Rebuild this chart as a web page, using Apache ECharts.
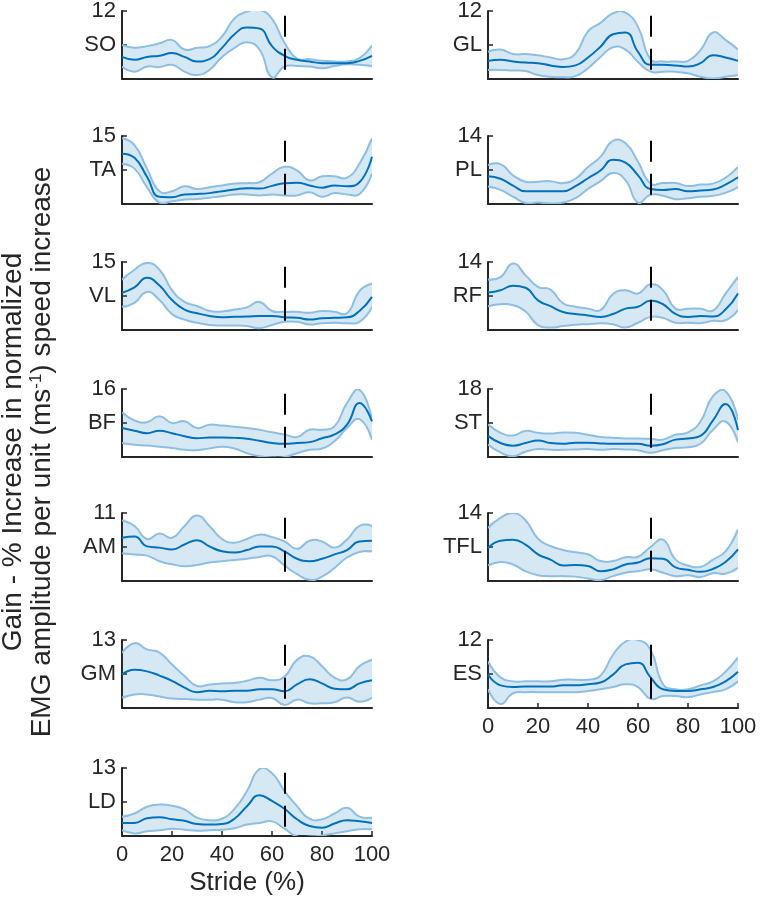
<!DOCTYPE html>
<html>
<head>
<meta charset="utf-8">
<script src="https://cdn.jsdelivr.net/npm/echarts@6/dist/echarts.min.js"></script>
<style>html,body{margin:0;padding:0;background:#fff;}#c{width:761px;height:912px;}</style>
</head>
<body>
<div id="c"></div>
<script>
const X = [0,5,10,15,20,25,30,35,40,45,50,55,60,65,70,75,80,85,90,95,100];
const STANCE_END = 65;

const SO_mean  = [3.9,3.4,3.9,4.1,4.6,3.9,3.1,3.5,5.5,7.9,9.1,8.9,5.8,4.1,3.4,3.1,2.8,2.8,2.8,3.2,4.1];
const SO_upper = [6.0,5.5,5.8,6.3,6.9,5.2,5.5,5.8,7.5,10.7,11.9,12.2,10.6,6.4,3.6,3.5,3.2,3.1,3.1,3.7,5.9];
const SO_lower = [2.2,1.3,2.2,2.1,2.5,1.3,0.7,1.6,3.9,5.5,6.5,5.2,0.3,2.2,2.3,2.2,1.9,2.3,2.6,2.5,2.3];

const GL_mean  = [3.2,3.4,3.1,2.9,2.8,2.4,2.1,2.4,3.8,5.7,7.9,8.2,4.8,2.5,2.5,2.4,2.2,2.8,4.2,3.8,3.2];
const GL_upper = [4.8,5.2,4.4,4.4,4.2,3.8,3.5,4.5,8.4,9.9,11.6,11.7,9.2,3.5,3.1,3.1,3.2,5.1,8.2,6.9,5.2];
const GL_lower = [1.6,1.6,1.5,1.4,0.7,0.4,0.3,0.5,1.9,3.9,5.6,5.2,3.0,1.3,1.3,1.3,1.0,0.4,0.1,0.4,0.7];

const TA_mean  = [11.1,10.2,6.0,1.6,1.5,2.1,2.2,2.4,2.8,3.2,3.5,3.4,4.0,4.6,4.7,4.1,3.6,4.1,3.9,4.8,10.4];
const TA_upper = [14.5,13.0,7.8,2.8,2.8,3.9,3.3,3.7,4.1,4.5,4.6,4.8,6.7,8.2,7.4,5.2,6.1,6.1,5.8,8.9,14.5];
const TA_lower = [8.9,7.8,3.7,0.3,0.6,1.0,1.1,1.4,1.7,2.1,2.1,1.9,2.1,1.9,1.9,2.6,1.6,2.4,2.1,2.2,6.7];

const PL_mean  = [5.7,5.2,3.8,2.6,2.6,2.6,2.6,3.7,5.3,6.9,9.1,8.5,5.9,3.1,2.9,3.1,2.6,2.8,3.0,4.0,5.5];
const PL_upper = [8.0,8.2,5.9,4.6,4.6,4.7,4.3,5.2,7.6,9.7,13.0,12.5,8.7,4.2,4.3,4.3,3.7,4.0,4.2,5.4,7.6];
const PL_lower = [3.6,2.9,1.5,0.2,0.3,0.1,0.3,1.2,3.1,4.7,6.4,4.9,0.3,1.9,1.7,1.0,1.2,1.5,1.7,2.3,3.5];

const VL_mean  = [8.2,9.4,11.5,9.8,6.6,4.5,3.7,3.1,2.8,2.9,3.0,3.1,3.1,2.8,2.7,2.3,2.6,2.7,2.8,4.2,7.3];
const VL_upper = [11.1,13.3,14.8,13.3,8.8,6.2,5.3,4.2,4.1,4.5,5.0,6.2,4.2,4.0,4.0,3.8,4.2,4.0,3.7,8.6,10.2];
const VL_lower = [5.1,6.0,8.4,6.6,3.5,2.3,1.6,1.1,1.0,1.0,0.9,0.4,1.1,1.8,1.8,1.2,1.5,1.6,1.5,1.8,5.1];

const RF_mean  = [7.7,8.2,9.1,8.7,6.1,4.9,3.7,3.3,3.0,2.7,3.3,4.4,4.8,6.0,5.3,3.3,2.7,2.9,2.8,4.2,7.5];
const RF_upper = [10.4,10.9,13.7,11.3,8.9,8.3,5.5,4.8,4.4,4.1,7.4,8.2,7.5,9.4,8.2,4.4,4.4,4.4,4.0,7.5,10.9];
const RF_lower = [4.9,5.3,5.1,3.8,1.0,0.5,0.8,1.1,1.2,1.4,1.2,0.5,1.5,2.7,2.5,1.5,1.5,1.4,1.9,2.0,4.1];

const BF_mean  = [6.8,6.2,5.6,6.2,5.6,4.9,4.4,4.6,4.6,4.5,4.3,3.8,3.3,3.1,3.3,3.5,4.4,5.3,7.6,12.7,8.4];
const BF_upper = [10.5,8.6,8.2,9.6,8.0,8.4,6.8,7.6,7.4,7.1,6.8,6.4,5.8,5.3,4.7,6.4,6.4,7.2,12.7,15.8,8.8];
const BF_lower = [3.3,2.9,2.7,2.4,2.1,1.7,1.6,2.0,2.4,2.0,0.9,0.2,-0.1,0.0,0.9,1.7,2.0,3.7,6.8,8.9,4.1];

const ST_mean  = [5.6,3.7,3.0,3.7,4.4,3.7,3.5,3.8,3.8,3.6,3.5,3.5,3.5,3.0,3.4,4.6,4.9,5.6,9.7,14.0,7.1];
const ST_upper = [8.6,6.4,5.7,6.9,6.4,6.2,6.5,6.4,5.9,5.3,5.1,4.9,4.9,4.8,4.6,5.9,6.5,9.4,16.1,17.4,9.9];
const ST_lower = [3.3,1.2,0.2,1.4,2.1,1.9,1.9,2.0,2.1,1.9,2.1,2.0,1.8,1.1,1.8,2.4,2.6,3.5,7.2,9.4,3.9];

const AM_mean  = [7.0,7.2,5.6,5.4,5.1,5.9,6.6,5.6,4.8,4.6,5.0,5.6,5.6,4.8,3.6,3.2,3.6,4.3,5.0,6.4,6.5];
const AM_upper = [9.8,8.9,6.8,7.7,7.0,8.9,10.6,8.9,6.8,6.2,6.8,7.5,7.1,6.4,5.2,6.5,6.4,5.4,6.7,8.9,8.9];
const AM_lower = [4.5,4.3,4.1,3.2,2.7,2.4,2.6,3.0,3.2,3.4,3.6,3.9,4.0,2.5,1.1,0.2,0.7,2.1,3.8,4.7,4.8];

const TFL_mean  = [6.8,8.3,8.5,7.5,5.5,4.4,3.2,3.3,3.1,2.0,2.4,3.4,3.8,4.7,4.6,2.8,2.3,1.9,2.5,3.9,6.5];
const TFL_upper = [10.9,13.0,14.0,12.5,8.7,7.2,6.4,5.9,5.5,4.1,4.1,4.9,5.0,7.0,8.5,4.4,3.2,2.9,4.4,6.1,10.6];
const TFL_lower = [3.2,3.9,3.4,2.0,1.2,1.0,1.0,0.9,0.5,0.2,1.0,1.7,2.0,2.4,1.7,1.0,1.2,0.8,1.6,1.5,2.7];

const GM_mean  = [6.4,7.3,7.0,6.2,5.2,3.9,3.0,3.3,3.2,3.3,3.3,3.6,3.6,3.2,4.5,5.5,4.7,3.7,3.6,4.7,5.3];
const GM_upper = [10.5,12.4,11.2,10.6,8.3,6.1,4.2,4.5,4.7,4.8,5.2,5.8,5.3,6.0,9.2,9.9,8.0,5.8,5.5,8.0,9.2];
const GM_lower = [2.0,2.6,2.6,2.2,1.8,1.7,1.6,1.6,1.6,1.1,1.1,1.6,1.9,0.6,1.6,0.9,0.9,1.1,2.0,1.2,2.0];

const ES_mean  = [5.9,4.0,3.7,3.8,3.8,3.8,4.0,4.0,4.2,4.5,5.9,7.7,8.0,5.4,3.3,3.0,3.0,3.3,3.7,4.7,6.4];
const ES_upper = [8.2,5.4,4.7,4.7,4.7,4.7,5.0,5.0,5.0,5.7,9.4,11.7,12.0,10.3,4.2,3.3,3.3,4.0,4.7,6.4,8.9];
const ES_lower = [3.3,0.7,2.6,2.8,2.8,2.8,2.8,2.8,3.0,3.3,3.7,4.2,3.7,1.6,2.1,2.1,1.9,2.4,2.8,3.3,4.7];

const LD_mean  = [2.5,2.5,3.4,3.6,3.2,2.9,2.3,2.2,2.3,3.3,5.7,7.8,6.7,5.2,3.2,1.9,1.6,2.4,3.0,2.8,2.5];
const LD_upper = [3.7,4.3,5.6,6.0,5.8,5.1,3.5,3.0,3.3,5.2,8.6,12.8,12.0,8.6,5.7,3.3,3.2,4.3,5.4,3.7,3.5];
const LD_lower = [1.1,0.5,0.9,1.1,1.4,1.2,1.0,1.1,1.2,1.5,2.2,2.5,2.8,1.4,-0.1,-0.1,0.1,0.5,0.9,1.3,1.3];

const MUSCLES = ['SO','GL','TA','PL','VL','RF','BF','ST','AM','TFL','GM','ES','LD'];
const Y_MAX   = [12,12,15,14,15,14,16,18,11,14,13,12,13];
const DATA = {
  SO:[SO_mean,SO_upper,SO_lower], GL:[GL_mean,GL_upper,GL_lower],
  TA:[TA_mean,TA_upper,TA_lower], PL:[PL_mean,PL_upper,PL_lower],
  VL:[VL_mean,VL_upper,VL_lower], RF:[RF_mean,RF_upper,RF_lower],
  BF:[BF_mean,BF_upper,BF_lower], ST:[ST_mean,ST_upper,ST_lower],
  AM:[AM_mean,AM_upper,AM_lower], TFL:[TFL_mean,TFL_upper,TFL_lower],
  GM:[GM_mean,GM_upper,GM_lower], ES:[ES_mean,ES_upper,ES_lower],
  LD:[LD_mean,LD_upper,LD_lower]
};

const FONT = "'Liberation Sans', Arial, Helvetica, sans-serif";
const TXT = '#262626';
const ROW_TOP = [11,136,262,389,513,640,768];
const PH = 68;
const COL_LEFT = [122,488];
const PW = 250;
const SMOOTH = 0.5;
const BAND_FILL = 'rgba(0,114,189,0.16)';
const BAND_EDGE = '#8ebfe2';
const MEAN_COLOR = '#0072bd';

const grids=[], xAxes=[], yAxes=[], series=[];
MUSCLES.forEach((m,i)=>{
  const col = i % 2, row = Math.floor(i/2);
  const M = Y_MAX[i];
  const bottomPanel = (m==='LD' || m==='ES');
  grids.push({left:COL_LEFT[col], top:ROW_TOP[row], width:PW, height:PH});
  xAxes.push({
    gridIndex:i, type:'value', min:0, max:100, interval:20,
    axisLine:{show:true, onZero:false, lineStyle:{color:TXT, width:2}},
    axisTick:{show:bottomPanel, inside:true, length:5, lineStyle:{color:TXT, width:1.5}},
    axisLabel:{show:bottomPanel, fontSize:22, fontFamily:FONT, color:TXT, margin:8},
    splitLine:{show:false}
  });
  yAxes.push({
    gridIndex:i, type:'value', min:0, max:M, interval:M/2,
    axisLine:{show:true, lineStyle:{color:TXT, width:2}},
    axisTick:{show:true, inside:true, length:5, lineStyle:{color:TXT, width:1.5}},
    axisLabel:{fontSize:22, fontFamily:FONT, color:TXT, margin:6,
      formatter:(v)=> (Math.abs(v-M)<1e-6 ? String(M) : (Math.abs(v-M/2)<1e-6 ? m : ''))},
    splitLine:{show:false}
  });
  const [mean, upper, lower] = DATA[m];
  series.push({
    type:'custom', coordinateSystem:'cartesian2d', xAxisIndex:i, yAxisIndex:i,
    silent:true, animation:false, clip:true, z:1,
    data:[[0,0]],
    renderItem:(params, api)=>{
      const up = X.map((x,k)=>api.coord([x, upper[k]]));
      const lo = X.map((x,k)=>api.coord([x, lower[k]]));
      return {type:'group', children:[
        {type:'polygon', shape:{points: up.concat(lo.slice().reverse()), smooth:SMOOTH}, style:{fill:BAND_FILL, stroke:null}},
        {type:'polyline', shape:{points: up, smooth:SMOOTH}, style:{stroke:BAND_EDGE, lineWidth:2, fill:null}},
        {type:'polyline', shape:{points: lo, smooth:SMOOTH}, style:{stroke:BAND_EDGE, lineWidth:2, fill:null}}
      ]};
    }
  });
  series.push({
    type:'line', xAxisIndex:i, yAxisIndex:i, symbol:'none', smooth:SMOOTH, silent:true, animation:false,
    data:X.map((x,k)=>[x, mean[k]]), lineStyle:{color:MEAN_COLOR, width:2}, z:3,
    markLine:{silent:true, symbol:'none', animation:false, label:{show:false},
      lineStyle:{color:'#000', width:2, type:[21,12]},
      data:[[{coord:[STANCE_END, M*0.93]},{coord:[STANCE_END, M*0.12]}]]}
  });
});

const chart = echarts.init(document.getElementById('c'), null, {renderer:'canvas'});
chart.setOption({
  animation:false,
  grid:grids, xAxis:xAxes, yAxis:yAxes, series:series,
  graphic:[
    {type:'text', x:13, y:452, rotation:Math.PI/2,
      style:{text:'Gain - % Increase in normalized', font:'28px '+FONT, fill:TXT, align:'center', verticalAlign:'middle'}},
    {type:'text', x:42, y:452, rotation:Math.PI/2,
      style:{text:'EMG amplitude per unit (ms{sup|-1}) speed increase', font:'28px '+FONT, fill:TXT, align:'center', verticalAlign:'middle',
        rich:{sup:{fontSize:17, fontFamily:FONT, verticalAlign:'top', lineHeight:28}}}},
    {type:'text', x:247, y:883,
      style:{text:'Stride (%)', font:'26px '+FONT, fill:TXT, align:'center', verticalAlign:'middle'}}
  ]
});
</script>
</body>
</html>
